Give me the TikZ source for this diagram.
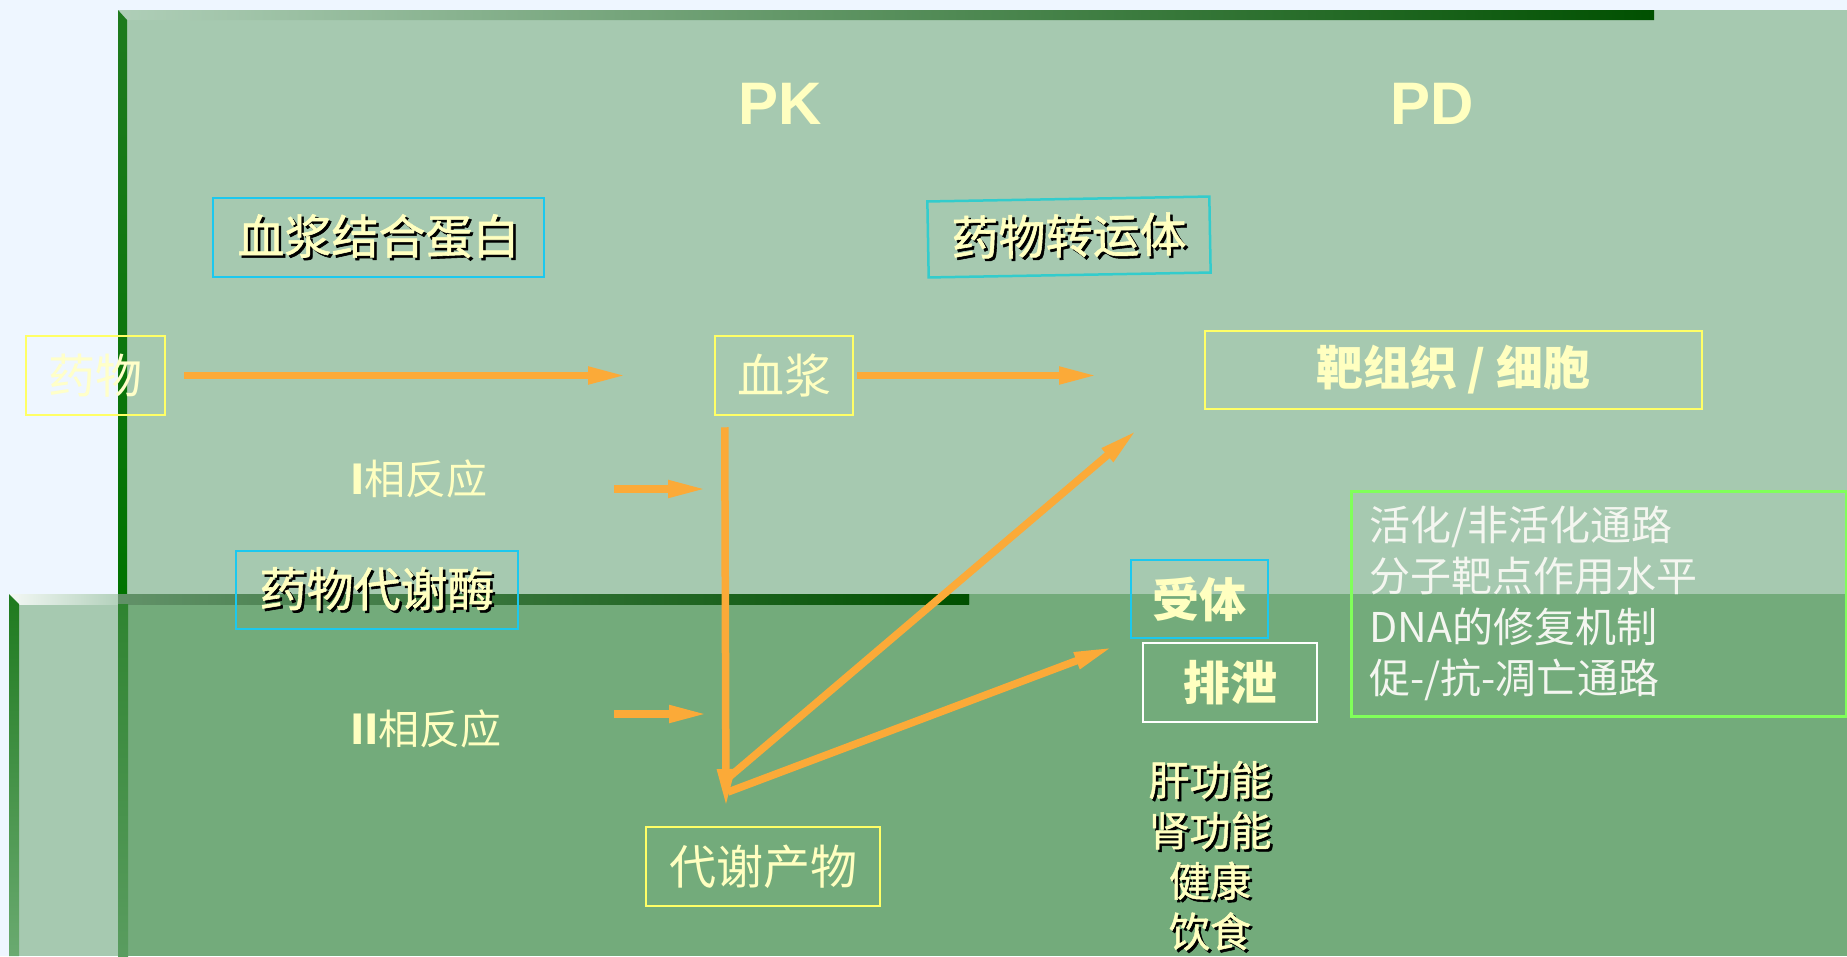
\documentclass[tikz,border=0pt]{standalone}
\usepackage{fontspec}
\usetikzlibrary{arrows.meta}
\newfontfamily\cjk{Noto Sans CJK SC}
\newfontfamily\cjkm{Noto Sans CJK SC}[FakeBold=1.2]
\newfontfamily\arialf{Liberation Sans}
\definecolor{pagebg}{HTML}{EEF6FF}
\definecolor{lgreen}{HTML}{A6C9B0}
\definecolor{dgreen}{HTML}{73AB7B}
\definecolor{txty}{HTML}{FFFFC0}
\definecolor{txtw}{HTML}{F4F6F0}
\definecolor{arrc}{HTML}{FBAA38}
\definecolor{cyanb}{HTML}{1CC8EE}
\definecolor{tealb}{HTML}{33CCCC}
\definecolor{yelb}{HTML}{FFFF66}
\definecolor{grnb}{HTML}{80FF5A}
\definecolor{darkg}{HTML}{005000}
\definecolor{borderg}{HTML}{1E7A1E}
\definecolor{fadeg}{HTML}{6AAA70}
\newcommand{\fsz}[1]{\fontsize{#1}{#1}\selectfont}
\newcommand{\shd}[1]{\leavevmode\rlap{\kern2.5pt\raisebox{-2.5pt}{\textcolor{black}{#1}}}#1}
\begin{document}
\begin{tikzpicture}[x=1pt,y=-1pt,
  box/.style={draw, line width=2.5pt, minimum height=79pt, inner sep=0pt, text=txty, font=\cjk\fsz{47}},
  boxm/.style={box, font=\cjkm\fsz{47}},
  boxb/.style={box, font=\cjk\bfseries\fsz{47}},
  lbl/.style={text=txty, font=\cjk\fsz{41}, inner sep=0pt},
  arr/.style={draw=arrc, line width=7.5pt, -{Triangle[length=39pt,width=16pt]}}]
% background
\useasboundingbox (0,0) rectangle (1847,956);
\fill[pagebg] (0,0) rectangle (1847,956);
\fill[lgreen] (118,10) rectangle (1847,956);
\fill[lgreen] (9,594) rectangle (118,956);
\fill[dgreen] (118,594) rectangle (1847,956);
% frame A
\shade[left color=lgreen!90!white, right color=darkg] (118,10) -- (1654,10) -- (1654,20) -- (127,20) -- cycle;
\shade[top color=borderg, bottom color=darkg!80!green] (118,10) -- (127,20) -- (127,594) -- (118,594) -- cycle;
% frame B
\shade[left color=white!85!lgreen, right color=darkg] (9,594) -- (969,594) -- (969,604) -- (19,604) -- cycle;
\shade[left color=white!80!lgreen, right color=lgreen!85!white] (19,594) -- (118,594) -- (118,604) -- (19,604) -- cycle;
\shade[left color=dgreen!85!black, right color=darkg] (118,594) -- (969,594) -- (969,604) -- (118,604) -- cycle;
\shade[top color=borderg, bottom color=fadeg] (9,594) -- (19,604) -- (19,956) -- (9,956) -- cycle;
\shade[top color=borderg!80!dgreen, bottom color=dgreen!70!borderg] (118,604) rectangle (128,956);
% titles
\node[text=txty, font=\arialf\bfseries\fsz{60}] (pk) at (780,104) {PK};
\node[text=txty, font=\arialf\bfseries\fsz{60}] (pd) at (1432,104) {PD};
% boxes
\node[boxm, draw=cyanb, minimum width=331pt] (xjjh) at (378.5,237.5) {\shd{血浆结合蛋白}};
\node[boxm, draw=tealb, minimum width=282pt, minimum height=76pt, rotate=1] (zy) at (1069,237) {\shd{药物转运体}};
\node[box, draw=yelb, minimum width=139pt, text=txty!85!white] (yw) at (95.5,375.5) {药物};
\node[box, draw=yelb, minimum width=138pt] (xj) at (784,375.5) {血浆};
\node[boxb, draw=yelb, minimum width=497pt, minimum height=78pt] (bz) at (1453.5,370) {靶组织 / 细胞};
\node[boxm, draw=cyanb, minimum width=282pt, minimum height=78pt] (dxm) at (377,590) {\shd{药物代谢酶}};
\node[box, draw=yelb, minimum width=234pt] (dxcw) at (763,866.5) {代谢产物};
\node[boxb, draw=cyanb, minimum width=137pt, minimum height=78pt] (st) at (1199.5,599) {受体};
\node[boxb, draw=white, minimum width=174pt] (px) at (1230,682.5) {排泄};
\node[draw=grnb, line width=2.5pt, anchor=north west, minimum height=225pt, text width=459pt, inner xsep=18pt, inner ysep=0pt, align=left, text=txtw, font=\cjk\fontsize{41}{51}\selectfont] (lj) at (1350,490) {活化/非活化通路\\分子靶点作用水平\\DNA的修复机制\\促-/抗-凋亡通路};
% labels
\node[lbl, anchor=west] (r1) at (350,479) {\textbf{I}相反应};
\node[lbl, anchor=west] (r2) at (350,729) {\textbf{II}相反应};
\node[lbl, align=center, font=\cjkm\fontsize{41}{50.5}\selectfont] (gn) at (1210,857) {\shd{肝功能}\\\shd{肾功能}\\\shd{健康}\\\shd{饮食}};
% arrow ends
\coordinate (a1e) at (627,375.5);
\coordinate (a2e) at (1098,375.5);
\coordinate (a3e) at (726,808);
\coordinate (o1) at (728,778);
\coordinate (a4e) at (1137,430);
\coordinate (o2) at (728,792);
\coordinate (a5e) at (1113,647);
\coordinate (p1s) at (614,489);
\coordinate (p1e) at (707,489);
\coordinate (p2s) at (614,714);
\coordinate (p2e) at (708,714);
% arrows
\draw[arr] ([xshift=18pt]yw.east) -- (a1e);
\draw[arr] ([xshift=3pt]xj.east) -- (a2e);
\draw[arr] ([xshift=11pt,yshift=-11pt]xj.south west) -- (a3e);
\draw[arr] (o1) -- (a4e);
\draw[arr] (o2) -- (a5e);
\draw[arr] (p1s) -- (p1e);
\draw[arr] (p2s) -- (p2e);
\end{tikzpicture}
\end{document}
